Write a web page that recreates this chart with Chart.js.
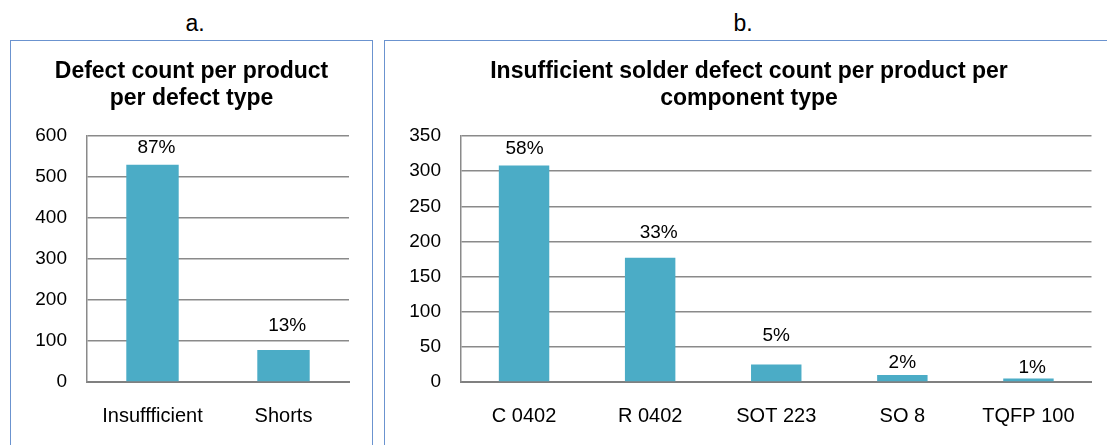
<!DOCTYPE html>
<html>
<head>
<meta charset="utf-8">
<script src="https://cdn.jsdelivr.net/npm/chart.js@4.4.1/dist/chart.umd.min.js"></script>
<style>
  html, body { margin: 0; padding: 0; background: #fff; width: 1107px; height: 445px; overflow: hidden; }
  .panel { position: absolute; border: 1.5px solid #6b93cf; border-bottom: none; box-sizing: border-box; }
  .tag { position: absolute; top: 12px; font: 23px "Liberation Sans", Arial, sans-serif; line-height: 1; color: #000; transform: translateX(-50%); }
  canvas { position: absolute; }
</style>
</head>
<body>
<div class="tag" style="left:195px">a.</div>
<div class="tag" style="left:743px">b.</div>
<div class="panel" style="left:10px; top:40px; width:363px; height:420px"></div>
<div class="panel" style="left:384px; top:40px; width:740px; height:420px"></div>
<canvas id="chartA" width="363" height="404" style="left:10px; top:41px"></canvas>
<canvas id="chartB" width="728" height="404" style="left:385px; top:41px"></canvas>

<script>
// Chart a: defect count per defect type
const defectTypes = ['Insuffficient', 'Shorts'];
const defectCounts = [530, 78];
const countTicksA = [0, 100, 200, 300, 400, 500, 600];

// Chart b: insufficient solder defects per component type
const componentTypes = ['C 0402', 'R 0402', 'SOT 223', 'SO 8', 'TQFP 100'];
const insufficientCounts = [308, 177, 25, 10, 5];
const countTicksB = [0, 50, 100, 150, 200, 250, 300, 350];

const FONT = '"Liberation Sans", Arial, sans-serif';
const BAR = '#4BACC6';
const GRID = '#8a8a8a';

// Percent shares: chart a against all defects, chart b against all insufficient-solder defects
const totalDefects = defectCounts.reduce((a, b) => a + b, 0);
const sharesA = defectCounts.map(v => Math.round(v / totalDefects * 100) + '%');
const sharesB = insufficientCounts.map(v => Math.round(v / defectCounts[0] * 100) + '%');

// Draws the percent share above each bar
const shareLabels = {
  id: 'shareLabels',
  afterDatasetsDraw(chart, args, opts) {
    const ctx = chart.ctx;
    const meta = chart.getDatasetMeta(0);
    ctx.save();
    ctx.font = '19px ' + FONT;
    ctx.fillStyle = '#000';
    ctx.textAlign = 'center';
    ctx.textBaseline = 'middle';
    meta.data.forEach((bar, i) => {
      const off = opts.offsets[i] || [0, 16];
      ctx.fillText(opts.labels[i], bar.x + off[0], bar.y - off[1]);
    });
    ctx.restore();
  }
};

// sidePad is applied on both sides so the title stays centred on the panel
function makeChart(id, labels, values, ticks, titleLines, yWidth, sidePad, labelTexts, labelOffsets) {
  const step = ticks[1] - ticks[0];
  return new Chart(document.getElementById(id), {
    type: 'bar',
    data: {
      labels: labels,
      datasets: [{
        data: values,
        backgroundColor: BAR,
        borderWidth: 0,
        categoryPercentage: 0.4,
        barPercentage: 1
      }]
    },
    plugins: [shareLabels],
    options: {
      responsive: false,
      devicePixelRatio: 1,
      animation: false,
      layout: { padding: { left: sidePad, right: sidePad, top: 0, bottom: 0 } },
      plugins: {
        legend: { display: false },
        tooltip: { enabled: false },
        title: {
          display: true,
          text: titleLines,
          color: '#000',
          font: { family: FONT, size: 23, weight: 'bold', lineHeight: 1.2 },
          padding: { top: 16.5, bottom: 23.4 }
        },
        shareLabels: { labels: labelTexts, offsets: labelOffsets }
      },
      scales: {
        x: {
          grid: { display: false, drawTicks: false },
          border: { display: true, color: '#808080', width: 2 },
          ticks: { color: '#000', font: { family: FONT, size: 20 }, padding: 22, maxRotation: 0, autoSkip: false },
          afterFit(scale) { scale.height = 63; }
        },
        y: {
          min: ticks[0],
          max: ticks[ticks.length - 1],
          grid: { color: GRID, lineWidth: 1.5, drawTicks: false },
          border: { display: true, color: GRID, width: 1.5 },
          ticks: { stepSize: step, color: '#000', font: { family: FONT, size: 19 }, padding: 20 },
          afterFit(scale) { scale.width = yWidth; }
        }
      }
    }
  });
}

makeChart('chartA', defectTypes, defectCounts, countTicksA,
  ['Defect count per product', 'per defect type'],
  53, 24, sharesA, [[4, 16.6], [3.7, 24.2]]);

makeChart('chartB', componentTypes, insufficientCounts, countTicksB,
  ['Insufficient solder defect count per product per', 'component type'],
  54.5, 21.5, sharesB, [[0.5, 16.5], [8.6, 24.8], [0, 28.7], [0, 12.2], [3.7, 10.8]]);
</script>
</body>
</html>
